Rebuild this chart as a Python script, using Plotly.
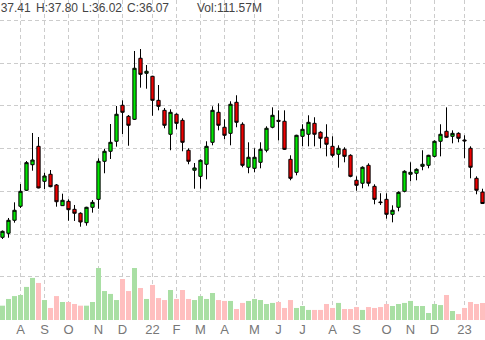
import plotly.graph_objects as go
import pandas as pd

# Weekly bars, starting Monday 2021-07-12
dates = pd.date_range("2021-07-12", periods=81, freq="7D")

opens = [32.12, 32.59, 34.11, 35.75, 37.62, 40.61, 42.76, 38.67, 39.49, 38.24,
         35.82, 36.33, 35.39, 34.93, 33.83, 35.63, 36.56, 41.01, 42.18, 43.35,
         47.56, 46.27, 45.92, 53.06, 51.30, 50.95, 48.14, 46.97, 44.17, 46.51,
         45.80, 42.30, 39.96, 39.25, 40.66, 43.23, 46.74, 44.99, 44.28, 47.91,
         45.34, 40.31, 40.19, 40.89, 42.30, 44.99, 45.80, 45.69, 41.24, 39.72,
         43.93, 44.17, 45.45, 44.40, 43.82, 42.76, 41.83, 42.41, 41.71, 38.79,
         38.44, 40.54, 38.08, 36.25, 36.56, 34.81, 35.63, 37.50, 39.49, 39.61,
         40.42, 40.54, 41.59, 43.35, 44.52, 43.93, 44.28, 43.50, 42.53, 39.02,
         37.41]
highs = [32.92, 34.38, 36.21, 38.35, 41.04, 44.32, 43.85, 39.68, 39.99, 38.35,
         37.22, 36.56, 35.90, 35.04, 35.69, 36.48, 41.36, 42.48, 45.37, 47.48,
         48.14, 46.42, 53.91, 54.14, 52.27, 51.01, 49.93, 47.24, 47.09, 46.62,
         46.04, 42.53, 40.81, 41.24, 43.35, 47.44, 47.79, 45.92, 48.03, 48.73,
         45.57, 43.23, 42.53, 43.23, 45.10, 47.32, 46.97, 46.97, 41.71, 44.11,
         45.34, 46.39, 46.16, 44.52, 45.34, 43.93, 42.88, 42.65, 41.83, 39.25,
         40.42, 40.77, 38.32, 37.27, 37.27, 35.86, 37.50, 39.96, 40.89, 40.19,
         42.30, 41.77, 43.46, 45.34, 47.32, 44.63, 44.40, 44.05, 42.76, 39.25,
         37.80]
lows = [31.92, 32.07, 33.83, 35.55, 37.54, 39.91, 37.85, 37.77, 37.97, 35.70,
        35.78, 34.06, 34.03, 33.36, 33.48, 35.00, 35.46, 39.61, 41.28, 42.72,
        44.20, 42.83, 45.84, 49.62, 49.50, 46.34, 46.97, 44.87, 42.30, 44.75,
        42.18, 40.66, 37.80, 37.80, 38.90, 42.88, 44.63, 43.58, 42.88, 44.99,
        40.31, 39.61, 39.72, 40.19, 42.06, 44.87, 43.46, 42.33, 38.79, 39.37,
        42.76, 42.76, 42.76, 42.53, 41.59, 41.48, 40.26, 40.89, 39.14, 37.57,
        37.85, 38.08, 35.98, 35.90, 34.30, 33.87, 35.16, 37.38, 38.67, 38.79,
        39.96, 40.19, 41.48, 41.59, 43.76, 43.11, 43.23, 41.36, 39.02, 37.15,
        36.02]
closes = [32.82, 34.11, 35.28, 37.50, 40.85, 41.16, 37.89, 39.29, 38.04, 36.28,
          36.45, 35.35, 34.93, 33.91, 35.63, 36.21, 41.01, 42.18, 43.23, 46.51,
          46.74, 45.22, 51.89, 51.18, 51.54, 48.14, 47.44, 45.22, 46.74, 45.45,
          43.23, 41.01, 40.23, 41.13, 42.76, 46.97, 45.22, 44.05, 47.68, 45.57,
          40.54, 41.48, 41.48, 42.41, 44.87, 46.39, 45.69, 42.41, 39.02, 44.05,
          44.75, 45.57, 44.17, 43.70, 43.00, 41.71, 42.53, 41.59, 39.25, 38.20,
          40.31, 38.44, 36.56, 36.18, 34.81, 35.28, 37.38, 39.84, 39.72, 40.07,
          40.66, 41.71, 43.35, 44.17, 43.82, 44.28, 43.70, 43.40, 40.31, 37.62,
          36.07]
volumes_m = [94, 138, 157, 164, 217, 276, 243, 131, 79, 157,
             118, 118, 105, 94, 94, 118, 341, 190, 171, 131,
             269, 190, 341, 210, 138, 230, 144, 131, 197, 138,
             197, 138, 131, 157, 138, 177, 131, 125, 125, 72,
             112, 125, 138, 131, 105, 112, 118, 79, 131, 79,
             92, 66, 66, 66, 105, 79, 112, 72, 72, 85,
             66, 85, 79, 85, 105, 92, 105, 112, 125, 92,
             92, 46, 105, 98, 164, 59, 39, 79, 118, 105, 111.57]

month_letters = ["J", "F", "M", "A", "M", "J", "J", "A", "S", "O", "N", "D"]

W, H = 485, 340
PLOT_H = 320

# month ticks at the week holding the first trading day of each month
tickvals, ticktext = [], []
fridays = [d + pd.Timedelta(days=4) for d in dates]
for i in range(1, len(dates)):
    if fridays[i].month != fridays[i - 1].month:
        m = fridays[i].month
        tickvals.append(dates[i])
        ticktext.append(str(fridays[i].year)[-2:] if m == 1 else month_letters[m - 1])

vol_colors = ["#a9dfa4" if c >= o else "#ffbfbf" for o, c in zip(opens, closes)]

fig = go.Figure()
fig.add_trace(go.Bar(x=dates, y=volumes_m, marker=dict(color=vol_colors, line=dict(width=0)),
                     yaxis="y2", showlegend=False, hoverinfo="skip"))
fig.add_trace(go.Candlestick(
    x=dates, open=opens, high=highs, low=lows, close=closes,
    increasing=dict(fillcolor="#00e800", line=dict(color="#000000", width=1)),
    decreasing=dict(fillcolor="#ee0000", line=dict(color="#000000", width=1)),
    whiskerwidth=0, showlegend=False))

pad = pd.Timedelta(days=7 * 2.5 / 6)
grid = "#cccccc"
fig.update_layout(
    width=W, height=H,
    margin=dict(l=0, r=0, t=0, b=H - PLOT_H),
    paper_bgcolor="white", plot_bgcolor="white",
    bargap=0.16, boxgap=0.22,
    font=dict(family="Liberation Sans, Arial, sans-serif", size=12, color="#666666"),
    xaxis=dict(type="date", range=[dates[0] - pad, dates[-1] + pad],
               tickmode="array", tickvals=tickvals, ticktext=ticktext,
               showgrid=True, gridcolor=grid, griddash="4px,3px", gridwidth=1,
               ticks="", showline=False, zeroline=False,
               rangeslider=dict(visible=False),
               tickfont=dict(size=13, color="#777777")),
    yaxis=dict(range=[22.447, 59.874], tickmode="array",
               tickvals=[27.5, 32.5, 37.5, 42.5, 47.5, 52.5, 57.5],
               showticklabels=False, showgrid=True, gridcolor=grid,
               griddash="4px,3px", gridwidth=1, zeroline=False, showline=False),
    yaxis2=dict(overlaying="y", range=[0, PLOT_H * 6.56], showgrid=False,
                showticklabels=False, zeroline=False, showline=False),
)

header = [("O:37.41", 33.0, "right"), ("H:37.80", 33.7, "left"), ("L:36.02", 79.7, "left"),
          ("C:36.07", 124.7, "left"), ("Vol:111.57M", 195.3, "left")]
for txt, px, anchor in header:
    fig.add_annotation(text=txt, xref="paper", yref="paper", x=px / W, y=1 - 7.5 / PLOT_H,
                       xanchor=anchor, yanchor="middle", showarrow=False,
                       font=dict(size=12, color="#444444"))

fig.write_html("out.html")
